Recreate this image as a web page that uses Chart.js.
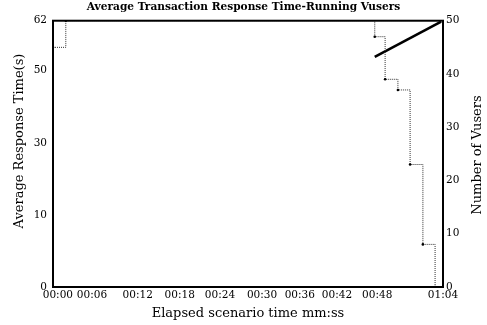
<!DOCTYPE html>
<html>
<head>
<meta charset="utf-8">
<script src="https://cdn.jsdelivr.net/npm/chart.js@4/dist/chart.umd.min.js"></script>
<style>
  html, body { margin: 0; padding: 0; background: #fff; }
  #wrap { width: 487px; height: 325px; }
</style>
</head>
<body>
<div id="wrap"><canvas id="c" width="487" height="325"></canvas></div>
<script>
// Elapsed time axis (seconds): where each printed tick sits, and its label
const timeTickAt = [0.8, 6.4, 13.9, 20.8, 27.4, 34.3, 40.5, 46.6, 53.2, 64];
const timeTickLabels = ['00:00', '00:06', '00:12', '00:18', '00:24', '00:30', '00:36', '00:42', '00:48', '01:04'];

// Left axis (response time, s): printed tick positions and labels
const responseTickAt = [0, 16.7, 33.4, 50.4, 62];
const responseTickLabels = ['0', '10', '30', '50', '62'];

// Running Vusers (right axis), step changes
const vuserTimes = [0, 2.1, 52.8, 54.5, 56.6, 58.6, 60.7, 62.7];
const runningVusers = [45, 50, 47, 39, 37, 23, 8, 0];

// Average transaction response time (left axis)
const responseTimes = [52.8, 63.7];
const avgResponse = [53.6, 61.8];

const titleText = 'Average Transaction Response Time-Running Vusers';
const xTitle = 'Elapsed scenario time mm:ss';
const leftTitle = 'Average Response Time(s)';
const rightTitle = 'Number of Vusers';

const SERIF = "'DejaVu Serif', 'Liberation Serif', serif";

// Plot frame and the two vertical axis titles (both read bottom to top)
const framePlugin = {
  id: 'frame',
  afterDatasetsDraw(chart) {
    const { ctx, chartArea: a } = chart;
    ctx.save();
    ctx.strokeStyle = '#000';
    ctx.lineWidth = 2;
    ctx.strokeRect(a.left, a.top, a.right - a.left, a.bottom - a.top);
    ctx.restore();
  },
  afterDraw(chart) {
    const { ctx } = chart;
    const drawVertical = (text, x, y) => {
      ctx.save();
      ctx.fillStyle = '#000';
      ctx.font = '13px ' + SERIF;
      ctx.textAlign = 'center';
      ctx.textBaseline = 'middle';
      ctx.translate(x, y);
      ctx.rotate(-Math.PI / 2);
      ctx.fillText(text, 0, 0);
      ctx.restore();
    };
    drawVertical(leftTitle, 20, 141);
    drawVertical(rightTitle, 478, 155);
  }
};

const tickFont = { family: SERIF, size: 10.5 };

new Chart(document.getElementById('c'), {
  type: 'line',
  data: {
    datasets: [
      {
        label: 'Running Vusers',
        data: vuserTimes.map((t, i) => ({ x: t, y: runningVusers[i] })),
        yAxisID: 'y1',
        stepped: true,
        borderColor: '#333',
        borderWidth: 1,
        borderDash: [1, 1],
        pointRadius: 1.3,
        pointBackgroundColor: '#000',
        pointBorderWidth: 0,
        fill: false
      },
      {
        label: 'Average Transaction Response Time',
        data: responseTimes.map((t, i) => ({ x: t, y: avgResponse[i] })),
        yAxisID: 'y',
        borderColor: '#000',
        borderWidth: 2.6,
        pointRadius: 0,
        fill: false
      }
    ]
  },
  options: {
    responsive: false,
    animation: false,
    layout: { padding: 0 },
    plugins: {
      legend: { display: false },
      tooltip: { enabled: false },
      title: {
        display: true,
        text: titleText,
        color: '#000',
        font: { family: SERIF, size: 10.6, weight: 'bold', lineHeight: 1.2 },
        padding: { top: 1, bottom: 7 }
      }
    },
    scales: {
      x: {
        type: 'linear',
        position: 'bottom',
        min: 0,
        max: 64,
        afterFit(s) { s.height = 38; },
        afterBuildTicks(s) { s.ticks = timeTickAt.map(v => ({ value: v })); },
        ticks: {
          autoSkip: false,
          maxRotation: 0,
          padding: 2,
          color: '#000',
          font: tickFont,
          callback: (v, i) => timeTickLabels[i]
        },
        grid: { display: false, drawTicks: false },
        border: { display: false },
        title: {
          display: true,
          text: xTitle,
          color: '#000',
          font: { family: SERIF, size: 13 },
          padding: { top: 0, bottom: 4 }
        }
      },
      y: {
        type: 'linear',
        position: 'left',
        min: 0,
        max: 62,
        afterFit(s) { s.width = 53; },
        afterBuildTicks(s) { s.ticks = responseTickAt.map(v => ({ value: v })); },
        ticks: {
          autoSkip: false,
          padding: 6,
          color: '#000',
          font: tickFont,
          callback: (v, i) => responseTickLabels[i]
        },
        grid: { display: false, drawTicks: false },
        border: { display: false }
      },
      y1: {
        type: 'linear',
        position: 'right',
        min: 0,
        max: 50,
        afterFit(s) { s.width = 44; },
        ticks: {
          stepSize: 10,
          padding: 3,
          color: '#000',
          font: tickFont
        },
        grid: { display: false, drawTicks: false },
        border: { display: false }
      }
    }
  },
  plugins: [framePlugin]
});
</script>
</body>
</html>
